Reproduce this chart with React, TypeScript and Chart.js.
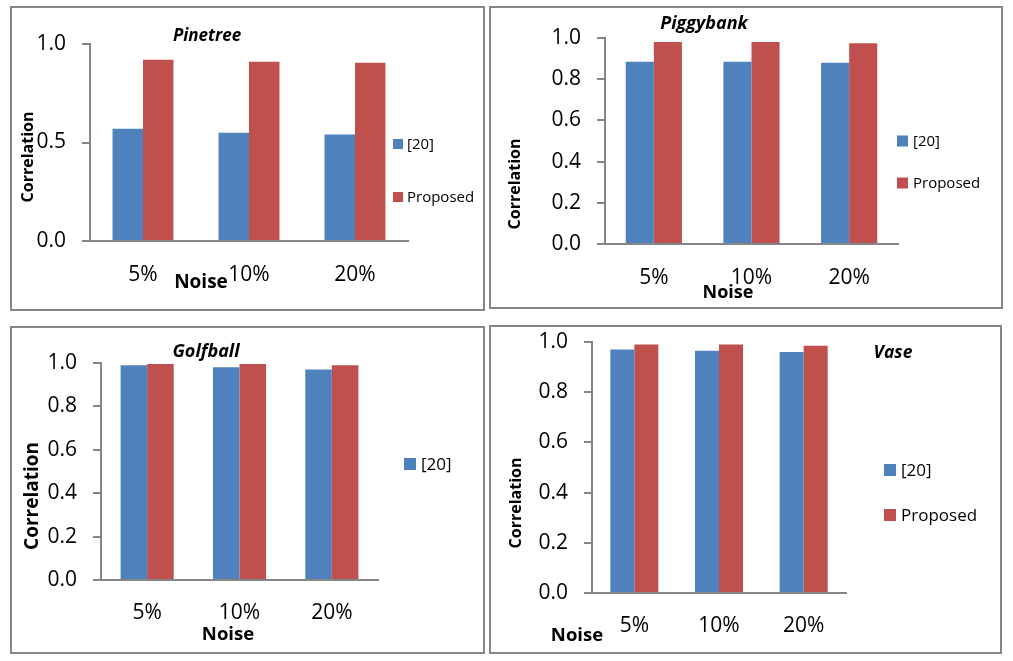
import React, { useEffect, useRef } from "react";
import { Chart, registerables } from "chart.js";

Chart.register(...registerables);

// ---------- data ----------
const categories = ["5%", "10%", "20%"];
const seriesLabels = ["[20]", "Proposed"];

const pinetreeRef20 = [0.57, 0.55, 0.54];
const pinetreeProposed = [0.92, 0.91, 0.905];

const piggybankRef20 = [0.885, 0.885, 0.88];
const piggybankProposed = [0.98, 0.98, 0.975];

const golfballRef20 = [0.99, 0.98, 0.97];
const golfballProposed = [0.995, 0.995, 0.99];

const vaseRef20 = [0.97, 0.965, 0.96];
const vaseProposed = [0.99, 0.99, 0.985];

const pinetreeTickStep = 0.5;
const otherTickStep = 0.2;

const titles = ["Pinetree", "Piggybank", "Golfball", "Vase"];
const yTitle = "Correlation";
const xTitle = "Noise";

// ---------- style ----------
const BLUE = "#4F81BD";
const RED = "#C0504D";
const AXIS = "#868686";
const FONT = "'Open Sans', 'Noto Sans', sans-serif";
const W = 1013;
const H = 661;

const overlayPlugin = {
  id: "overlay",
  afterDraw(chart: any, _args: any, opts: any) {
    const ctx = chart.ctx;
    (opts.texts || []).forEach((t: any) => {
      ctx.save();
      ctx.font = t.font;
      ctx.fillStyle = "#000";
      ctx.textAlign = "center";
      ctx.textBaseline = "middle";
      ctx.translate(t.x, t.y);
      if (t.rotate) ctx.rotate(t.rotate);
      ctx.fillText(t.text, 0, 0);
      ctx.restore();
    });
    const lg = opts.legend;
    if (lg) {
      let k = 0;
      chart.data.datasets.forEach((ds: any, i: number) => {
        if (!lg.show.includes(i)) return;
        const y = lg.ys[k++];
        ctx.save();
        ctx.fillStyle = ds.backgroundColor;
        ctx.fillRect(lg.x, y - lg.box / 2, lg.box, lg.box);
        ctx.fillStyle = "#000";
        ctx.font = lg.font;
        ctx.textAlign = "left";
        ctx.textBaseline = "middle";
        ctx.fillText(ds.label, lg.x + lg.box + lg.gap, y + 1);
        ctx.restore();
      });
    }
  },
};

type Panel = {
  L: number; R: number; T: number; B: number;
  ref: number[]; prop: number[];
  step: number; xPad: number; cat: number;
  texts: any[];
  legend: any;
};

const YW = 60;
const XH = 50;

const panels: Panel[] = [
  {
    L: 90, R: 408, T: 44, B: 241,
    ref: pinetreeRef20, prop: pinetreeProposed,
    step: pinetreeTickStep, xPad: 21, cat: 0.575,
    texts: [
      { text: titles[0], x: 207, y: 36, font: `bold italic 17px ${FONT}` },
      { text: yTitle, x: 28, y: 157, font: `bold 16px ${FONT}`, rotate: -Math.PI / 2 },
      { text: xTitle, x: 201, y: 283, font: `bold 19px ${FONT}` },
    ],
    legend: { x: 393, box: 10, gap: 4, ys: [144, 197], show: [0, 1], font: `15px ${FONT}` },
  },
  {
    L: 605, R: 898, T: 38, B: 244,
    ref: piggybankRef20, prop: piggybankProposed,
    step: otherTickStep, xPad: 21, cat: 0.575,
    texts: [
      { text: titles[1], x: 704, y: 24, font: `bold italic 18px ${FONT}` },
      { text: yTitle, x: 515, y: 184, font: `bold 16px ${FONT}`, rotate: -Math.PI / 2 },
      { text: xTitle, x: 728, y: 293, font: `bold 18px ${FONT}` },
    ],
    legend: { x: 897, box: 11, gap: 5, ys: [141, 183], show: [0, 1], font: `15px ${FONT}` },
  },
  {
    L: 101, R: 378, T: 363, B: 580,
    ref: golfballRef20, prop: golfballProposed,
    step: otherTickStep, xPad: 20, cat: 0.575,
    texts: [
      { text: titles[2], x: 206, y: 352, font: `bold italic 18px ${FONT}` },
      { text: yTitle, x: 33, y: 496, font: `bold 19px ${FONT}`, rotate: -Math.PI / 2 },
      { text: xTitle, x: 228, y: 635, font: `bold 18.5px ${FONT}` },
    ],
    legend: { x: 404, box: 12, gap: 5, ys: [464], show: [0], font: `17px ${FONT}` },
  },
  {
    L: 592, R: 846, T: 342, B: 593,
    ref: vaseRef20, prop: vaseProposed,
    step: otherTickStep, xPad: 20, cat: 0.567,
    texts: [
      { text: titles[3], x: 893, y: 353, font: `bold italic 17.5px ${FONT}` },
      { text: yTitle, x: 516, y: 503, font: `bold 16px ${FONT}`, rotate: -Math.PI / 2 },
      { text: xTitle, x: 577, y: 636, font: `bold 18.5px ${FONT}` },
    ],
    legend: { x: 884, box: 12, gap: 5, ys: [470, 515], show: [0, 1], font: `17px ${FONT}` },
  },
];

const borders = [
  { left: 10, top: 6, width: 475, height: 305 },
  { left: 489, top: 6, width: 514, height: 303 },
  { left: 10, top: 326, width: 475, height: 328 },
  { left: 489, top: 325, width: 513, height: 329 },
];

function buildConfig(p: Panel): any {
  return {
    type: "bar",
    data: {
      labels: categories,
      datasets: [
        { label: seriesLabels[0], data: p.ref, backgroundColor: BLUE, categoryPercentage: p.cat, barPercentage: 1 },
        { label: seriesLabels[1], data: p.prop, backgroundColor: RED, categoryPercentage: p.cat, barPercentage: 1 },
      ],
    },
    options: {
      responsive: false,
      animation: false,
      events: [],
      layout: {
        padding: { left: p.L - YW, right: W - p.R, top: p.T, bottom: H - p.B - XH },
      },
      plugins: {
        legend: { display: false },
        title: { display: false },
        tooltip: { enabled: false },
        overlay: { texts: p.texts, legend: p.legend },
      },
      scales: {
        x: {
          grid: { display: false, drawTicks: false },
          border: { display: true, color: AXIS, width: 2 },
          ticks: { color: "#000", font: { family: FONT, size: 21 }, padding: p.xPad, maxRotation: 0 },
          afterFit: (s: any) => { s.height = XH; },
        },
        y: {
          min: 0,
          max: 1,
          grid: { drawOnChartArea: false, drawTicks: true, tickLength: 8, color: AXIS, lineWidth: 2 },
          border: { display: true, color: AXIS, width: 2 },
          ticks: {
            stepSize: p.step,
            color: "#000",
            font: { family: FONT, size: 21 },
            padding: 16,
            callback: (v: any) => Number(v).toFixed(1),
          },
          afterFit: (s: any) => { s.width = YW; },
        },
      },
    },
    plugins: [overlayPlugin],
  };
}

function PanelChart({ panel }: { panel: Panel }) {
  const ref = useRef<HTMLCanvasElement | null>(null);
  useEffect(() => {
    if (!ref.current) return;
    const chart = new Chart(ref.current, buildConfig(panel));
    return () => chart.destroy();
  }, [panel]);
  return (
    <canvas
      ref={ref}
      width={W}
      height={H}
      style={{ position: "absolute", left: 0, top: 0, width: W, height: H }}
    />
  );
}

export default function App() {
  return (
    <div
      style={{
        position: "fixed",
        left: 0,
        top: 0,
        width: W,
        height: H,
        background: "#fff",
        overflow: "hidden",
      }}
    >
      {borders.map((b, i) => (
        <div
          key={"b" + i}
          style={{
            position: "absolute",
            left: b.left,
            top: b.top,
            width: b.width,
            height: b.height,
            border: `2px solid ${AXIS}`,
            boxSizing: "border-box",
          }}
        />
      ))}
      {panels.map((p, i) => (
        <PanelChart key={i} panel={p} />
      ))}
    </div>
  );
}
